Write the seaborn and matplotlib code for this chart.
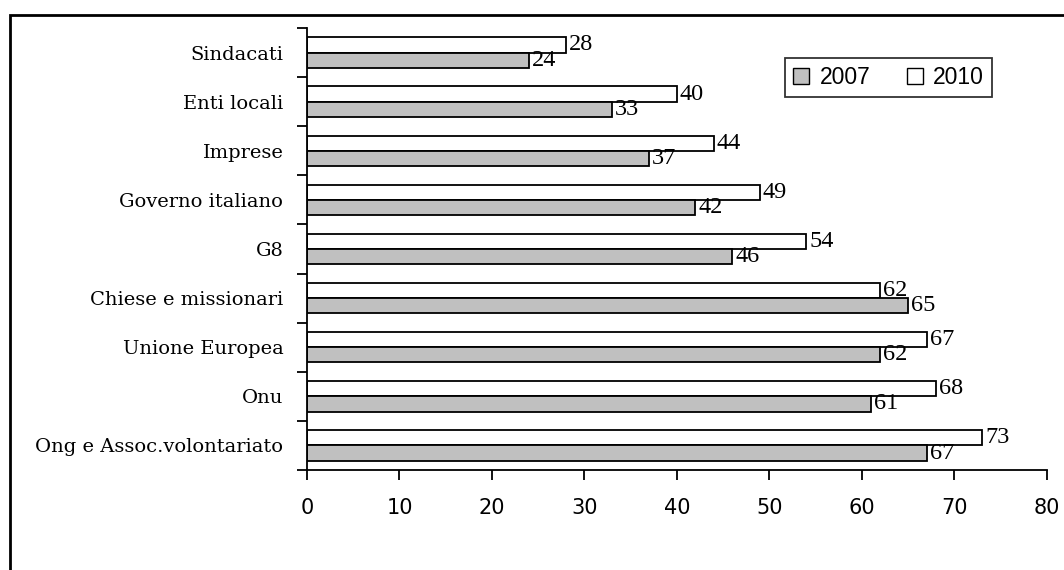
import matplotlib
matplotlib.use('Agg')
import matplotlib.pyplot as plt
import matplotlib.patches as mpatches
import numpy as np
import pandas as pd
import seaborn as sns

# data (top to bottom)
categories = ['Sindacati', 'Enti locali', 'Imprese', 'Governo italiano', 'G8',
              'Chiese e missionari', 'Unione Europea', 'Onu', 'Ong e Assoc.volontariato']
values_2007 = [24, 33, 37, 42, 46, 65, 62, 61, 67]
values_2010 = [28, 40, 44, 49, 54, 62, 67, 68, 73]
years = ['2007', '2010']
colors = {'2007': '#C0C0C0', '2010': '#FFFFFF'}

df = pd.DataFrame({
    'categoria': categories * 2,
    'valore': values_2007 + values_2010,
    'anno': ['2007'] * len(categories) + ['2010'] * len(categories),
})

sns.set_style('white')
plt.rcParams['font.family'] = ['DejaVu Sans']
plt.rcParams['text.color'] = 'black'
plt.rcParams['xtick.color'] = 'black'
plt.rcParams['ytick.color'] = 'black'

fig = plt.figure(figsize=(10.64, 5.70), dpi=100)
ax = fig.add_axes([0.2885, 0.1754, 0.6955, 0.7755])

# 2010 on top within each group
sns.barplot(data=df, y='categoria', x='valore', hue='anno', hue_order=['2010', '2007'],
            order=categories, palette=colors, orient='h', width=0.62,
            edgecolor='black', linewidth=1.3, ax=ax, legend=False)

for cont in ax.containers:
    ax.bar_label(cont, padding=2, fontsize=17.5, family='Liberation Serif', color='black')

ax.set_xlim(0, 80)
ax.set_ylim(len(categories) - 0.5, -0.5)
ax.set_xticks(np.arange(0, 81, 10))
ax.set_xlabel('')
ax.set_ylabel('')

# tick labels at centres, tick marks at group boundaries
ax.tick_params(axis='y', which='major', length=0, pad=17, labelsize=14)
ax.set_yticks(np.arange(-0.5, len(categories), 1), minor=True)
ax.tick_params(axis='y', which='minor', left=True, length=7, width=1.3, direction='out')
for lab in ax.get_yticklabels():
    lab.set_family('DejaVu Serif')
    lab.set_color('black')
ax.tick_params(axis='x', which='major', bottom=True, length=7, width=1.3,
               direction='out', pad=13, labelsize=15)
for lab in ax.get_xticklabels():
    lab.set_family('DejaVu Sans')
    lab.set_color('black')

sns.despine(ax=ax, top=True, right=True)
for s in ['left', 'bottom']:
    ax.spines[s].set_color('black')
    ax.spines[s].set_linewidth(1.3)

handles = [mpatches.Patch(facecolor=colors[y], edgecolor='black', linewidth=1.0, label=y)
           for y in years]
leg = ax.legend(handles=handles, loc='upper left', bbox_to_anchor=(0.646, 0.932), ncol=2,
                borderaxespad=0, frameon=True, fancybox=False, handlelength=0.7,
                handleheight=0.7, handletextpad=0.45, columnspacing=1.6, borderpad=0.35,
                prop={'family': 'Liberation Sans', 'size': 16.5})
leg.get_frame().set_edgecolor('black')
leg.get_frame().set_linewidth(1.3)
for t in leg.get_texts():
    t.set_color('black')

# outer frame (only top and left visible in the crop)
frame = mpatches.Rectangle((10 / 1064, -0.2), 2.0, 1.2 - 15 / 570, transform=fig.transFigure,
                           fill=False, edgecolor='black', linewidth=2.0)
fig.add_artist(frame)

fig.savefig('out.png', dpi=100)
